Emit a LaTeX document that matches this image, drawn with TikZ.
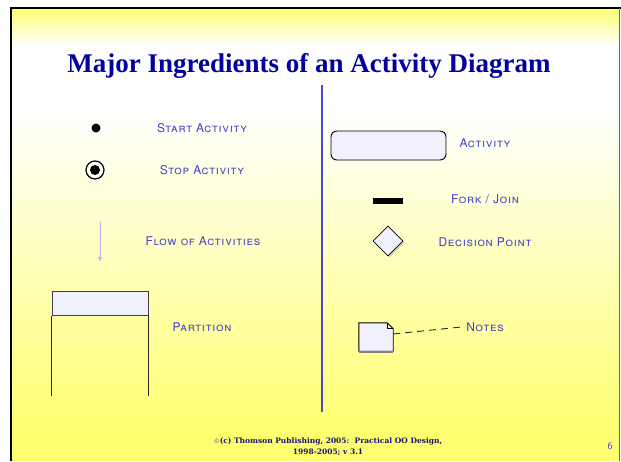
\documentclass[tikz,border=0pt]{standalone}
\usepackage{fontspec}
\setmainfont{Liberation Serif}
\newfontfamily\capsfont[LetterSpace=6]{TeX Gyre Heros}
\newfontfamily\footfont{DejaVu Serif}
\usetikzlibrary{arrows,shapes.geometric,shadows,calc}

\definecolor{slideyellow}{RGB}{255,255,112}
\definecolor{titleblue}{RGB}{0,0,160}
\definecolor{labelblue}{RGB}{64,64,200}
\definecolor{footblue}{RGB}{20,20,110}
\definecolor{lavender}{RGB}{240,240,255}
\definecolor{divblue}{RGB}{72,72,210}

\begin{document}
\begin{tikzpicture}[x=1pt,y=-1pt,>=stealth',
  title text/.style={font=\fontsize{27}{30}\selectfont\bfseries,text=titleblue},
  item label/.style={font=\capsfont\fontsize{12}{14}\selectfont\scshape,text=labelblue,inner sep=0},
  start dot/.style={circle,fill=black,minimum size=9,inner sep=0},
  stop dot/.style={circle,draw=black,line width=1.2,fill=white,minimum size=18,inner sep=0,
    path picture={\fill[black] (path picture bounding box.center) circle (5);}},
  lane head/.style={rectangle,draw=black!75,line width=1,fill=lavender,minimum width=96,minimum height=24,
    drop shadow={shadow xshift=0.8pt,shadow yshift=-0.8pt,fill=black!40}},
  activity box/.style={rectangle,rounded corners=6,draw=black,line width=0.9,fill=lavender,
    minimum width=115,minimum height=29},
  fork bar/.style={rectangle,fill=black,minimum width=30,minimum height=6,inner sep=0},
  decision/.style={diamond,draw=black,line width=0.8,fill=lavender,minimum width=30,minimum height=30,
    inner sep=0,drop shadow={shadow xshift=1.5pt,shadow yshift=-1.5pt,fill=black!35}},
  note box/.style={rectangle,minimum width=34,minimum height=28,inner sep=0},
  footer/.style={font=\footfont\fontsize{7.5}{11}\selectfont\bfseries,text=footblue,align=center}]

  \useasboundingbox (0,0) rectangle (621,461);

  % slide background
  \fill[white] (0,0) rectangle (621,461);
  \shade[top color=slideyellow,bottom color=white] (11,8) rectangle (619,46);
  \shade[top color=white,bottom color=slideyellow] (11,110) rectangle (619,432);
  \fill[slideyellow] (11,431) rectangle (619,461);
  \draw[line width=2.5] (11,461) -- (11,8) -- (621,8);
  \draw[black!60,line width=1] (619.5,8) -- (619.5,461);

  \node[title text] (title) at (309,66) {Major Ingredients of an Activity Diagram};

  \coordinate (divtop) at (322,85);
  \coordinate (divbot) at (322,412);
  \draw[divblue,line width=2] (divtop) -- (divbot);

  \node[start dot] (start) at (96,128) {};
  \node[stop dot] (stop) at (95,170) {};
  \coordinate (flowtop) at (100,222);
  \coordinate (flowend) at (100,261);
  \node[lane head] (lane) at (100,303) {};
  \coordinate (lanebottom) at (100,396);

  \node[item label] (startlbl) at (202,128) {Start Activity};
  \node[item label] (stoplbl) at (202,170) {Stop Activity};
  \node[item label] (flowlbl) at (203,241) {Flow of Activities};
  \node[item label] (lanelbl) at (202,327) {Partition};

  \node[activity box] (act) at (388.5,145.5) {};
  \node[fork bar] (fork) at (388,201) {};
  \node[decision] (dec) at (388,241) {};
  \node[note box] (note) at (376,337) {};

  \node[item label] (actlbl) at (485,143) {Activity};
  \node[item label] (forklbl) at (485,199) {Fork / Join};
  \node[item label] (declbl) at (485,242) {Decision Point};
  \node[item label] (notelbl) at (485,327) {Notes};

  \draw[black!25!blue!30,line width=0.6,->] (flowtop) -- (flowend);
  \draw[black!85,line width=1] (lane.south west) -- (lane.south west |- lanebottom);
  \draw[black!85,line width=1] (lane.south east) -- (lane.south east |- lanebottom);

  \filldraw[fill=lavender,draw=black,line width=0.9]
    (note.north west) -- ($(note.north east)+(-6,0)$) -- ($(note.north east)+(0,6)$)
    -- (note.south east) -- (note.south west) -- cycle;
  \draw[black,line width=0.7] ($(note.north east)+(-6,0)$) -- ($(note.north east)+(-6,6)$) -- ($(note.north east)+(0,6)$);
  \draw[black!50,line width=1.5] ($(note.south west)+(0,1)$) -- ($(note.south east)+(0,1)$);
  \draw[black!85,line width=0.9,dash pattern=on 7pt off 5pt] ($(note.east)+(0,-3)$) -- ([xshift=-5pt]notelbl.west);

  \node[footer] (foot) at (328,447) {{\color{labelblue}\mdseries\fontsize{6}{6}\selectfont ©}(c) Thomson Publishing, 2005:\ \ Practical OO Design,\\1998-2005; v 3.1};
  \node[text=labelblue,font=\sffamily\fontsize{10}{10}\selectfont] (page) at (610,446) {6};
\end{tikzpicture}
\end{document}
